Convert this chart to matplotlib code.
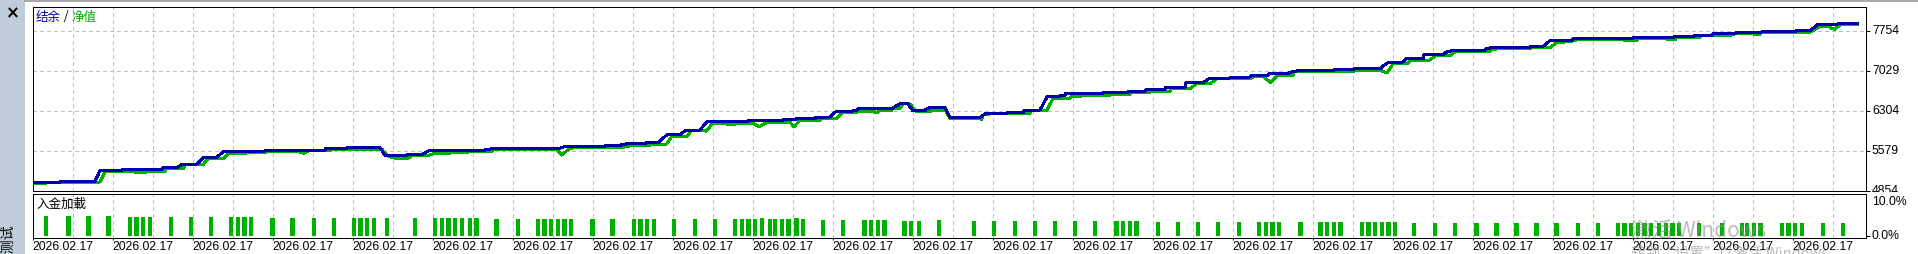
import matplotlib
matplotlib.use('Agg')
import matplotlib.pyplot as plt
import matplotlib.transforms as mtransforms
from matplotlib.patches import Rectangle
from matplotlib.lines import Line2D
import numpy as np

plt.rcParams['lines.scale_dashes'] = False

# balance curve: time (minutes from 00:00) and value
bal_t = [0, 20.6, 21.4, 46.9, 50.6, 66.4, 67.1, 96.9, 97.7, 108.2,
         111.9, 123.2, 128.1, 138.2, 143.1, 174.4, 175.1, 219.4, 220.1, 235.7,
         236.4, 260.6, 264.4, 280.7, 281.4, 291.9, 296.9, 326.9, 327.4, 339.4,
         340.1, 343.1, 343.9, 395.6, 396.4, 397.9, 398.6, 428.6, 429.4, 440.6,
         441.4, 444.4, 445.1, 459.4, 460.1, 469.1, 475.7, 485.6, 489.4, 500.6,
         505.7, 535.7, 536.4, 561.9, 562.7, 571.9, 572.6, 586.9, 587.6, 598.1,
         601.9, 614.4, 615.2, 618.2, 618.9, 644.4, 650.6, 656.6, 660.4, 669.4,
         670.1, 673.1, 684.4, 688.1, 710.6, 714.4, 730.1, 730.9, 742.9, 743.6,
         745.9, 755.6, 760.9, 770.6, 771.4, 774.4, 775.1, 802.9, 803.6, 821.6,
         822.4, 834.4, 835.1, 849.4, 850.1, 864.4, 865.1, 877.9, 883.1, 898.1,
         898.9, 913.1, 913.9, 926.6, 927.4, 940.9, 945.4, 950.6, 975.4, 976.1,
         990.4, 991.1, 1010.6, 1015.9, 1026.9, 1030.6, 1043.1, 1043.6, 1058.1, 1061.9,
         1089.4, 1090.1, 1093.1, 1093.9, 1123.1, 1123.9, 1133.1, 1138.1, 1154.4, 1155.2,
         1199.4, 1200.2, 1230.6, 1231.4, 1245.6, 1246.4, 1259.4, 1260.2, 1276.9, 1277.6,
         1295.6, 1296.4, 1321.9, 1322.6, 1333.1, 1338.4, 1352.6, 1353.4, 1368.4]
bal_v = [4995, 4995, 5026, 5026, 5213, 5213, 5231, 5231, 5262, 5262,
         5329, 5334, 5449, 5456, 5557, 5570, 5588, 5588, 5619, 5619,
         5637, 5637, 5485, 5485, 5503, 5503, 5570, 5570, 5588, 5588,
         5601, 5601, 5612, 5612, 5637, 5637, 5648, 5648, 5666, 5666,
         5679, 5679, 5702, 5702, 5720, 5720, 5860, 5860, 5938, 5951,
         6096, 6101, 6114, 6114, 6132, 6132, 6150, 6150, 6186, 6186,
         6277, 6277, 6300, 6300, 6337, 6337, 6425, 6422, 6300, 6300,
         6326, 6355, 6355, 6181, 6181, 6241, 6241, 6264, 6264, 6295,
         6313, 6313, 6549, 6554, 6580, 6580, 6616, 6616, 6634, 6634,
         6652, 6652, 6688, 6688, 6725, 6725, 6808, 6808, 6893, 6893,
         6911, 6911, 6935, 6935, 6966, 6966, 7015, 7025, 7025, 7044,
         7044, 7062, 7062, 7165, 7170, 7243, 7243, 7315, 7323, 7382,
         7388, 7431, 7431, 7450, 7450, 7468, 7468, 7569, 7576, 7600,
         7600, 7623, 7623, 7649, 7649, 7667, 7667, 7691, 7691, 7709,
         7709, 7727, 7727, 7745, 7745, 7854, 7854, 7872, 7872]

# equity curve
eq_t = [0, 9.4, 10.1, 20.6, 21.4, 50.6, 54.4, 76.9, 77.6, 84.4,
        85.1, 99.4, 100.1, 112.9, 114.4, 127.9, 131.6, 142.9, 146.6, 159.4,
        160.1, 174.4, 175.1, 200.6, 203.6, 206.6, 223.1, 223.9, 262.1, 266.6,
        271.9, 281.6, 284.6, 296.6, 300.4, 306.1, 313.6, 327.1, 343.1, 346.9,
        393.1, 397.1, 403.1, 440.6, 448.1, 460.1, 475.6, 479.4, 490.6, 494.4,
        505.6, 509.4, 515.6, 523.1, 540.4, 544.9, 550.9, 568.1, 571.1, 575.6,
        590.6, 591.4, 603.1, 606.9, 618.1, 618.9, 630.4, 633.4, 635.6, 644.4,
        645.2, 650.6, 652.9, 658.1, 663.1, 673.1, 673.9, 684.4, 688.1, 709.1,
        711.9, 712.9, 718.1, 733.1, 733.9, 748.1, 748.9, 755.6, 756.4, 760.6,
        765.4, 778.1, 778.9, 785.6, 786.4, 808.1, 808.9, 823.1, 823.9, 838.1,
        838.9, 853.1, 853.9, 868.1, 873.1, 883.1, 888.1, 913.1, 915.4, 922.9,
        928.6, 934.1, 945.4, 945.6, 950.6, 985.6, 985.9, 990.4, 991.1, 1010.6,
        1015.9, 1020.4, 1030.6, 1034.4, 1048.1, 1051.9, 1063.1, 1066.9, 1093.1, 1093.9,
        1096.9, 1097.6, 1123.1, 1123.9, 1138.1, 1143.1, 1154.4, 1155.4, 1158.1, 1193.1,
        1195.1, 1202.6, 1204.1, 1225.6, 1228.1, 1231.9, 1233.1, 1250.6, 1251.4, 1273.1,
        1276.9, 1290.4, 1291.9, 1295.6, 1296.4, 1333.1, 1340.6, 1346.6, 1350.4, 1351.9,
        1355.6, 1368.4]
eq_v = [4977, 4977, 4990, 4990, 5008, 5008, 5195, 5195, 5177, 5177,
        5202, 5202, 5244, 5244, 5322, 5322, 5430, 5430, 5516, 5516,
        5539, 5539, 5552, 5552, 5528, 5570, 5570, 5594, 5600, 5479,
        5438, 5438, 5485, 5485, 5521, 5516, 5534, 5552, 5552, 5601,
        5601, 5497, 5624, 5630, 5661, 5673, 5697, 5836, 5836, 5938,
        5932, 6059, 6072, 6054, 6077, 6010, 6090, 6090, 6010, 6126,
        6126, 6155, 6155, 6259, 6259, 6290, 6290, 6264, 6308, 6308,
        6344, 6344, 6422, 6422, 6277, 6277, 6313, 6313, 6168, 6168,
        6145, 6222, 6241, 6241, 6253, 6253, 6295, 6295, 6300, 6300,
        6525, 6525, 6554, 6554, 6572, 6572, 6598, 6598, 6627, 6627,
        6657, 6657, 6699, 6699, 6790, 6790, 6875, 6880, 6911, 6917,
        6815, 6947, 6947, 7007, 7015, 7015, 7002, 7002, 7033, 7033,
        6984, 7147, 7147, 7219, 7219, 7292, 7292, 7370, 7370, 7406,
        7406, 7424, 7424, 7437, 7437, 7540, 7551, 7576, 7582, 7582,
        7569, 7569, 7600, 7600, 7582, 7582, 7623, 7623, 7660, 7660,
        7696, 7696, 7685, 7685, 7721, 7721, 7830, 7830, 7781, 7781,
        7854, 7854]

# deposit load bars: time (minutes) and load (%)
bar_t = [10, 27, 42, 57, 73, 78, 83, 88, 104, 119,
         134, 149, 154, 159, 164, 180, 195, 211, 226, 241,
         246, 251, 256, 266, 287, 302, 307, 312, 317, 322,
         328, 333, 348, 364, 379, 384, 389, 394, 399, 404,
         420, 435, 451, 456, 461, 466, 481, 497, 512, 527,
         532, 537, 542, 547, 553, 557, 562, 567, 573, 578,
         593, 608, 624, 629, 634, 639, 654, 659, 665, 680,
         706, 721, 737, 752, 767, 782, 797, 813, 818, 823,
         828, 844, 859, 874, 889, 905, 920, 925, 930, 935,
         951, 966, 971, 976, 981, 997, 1002, 1007, 1012, 1017,
         1022, 1036, 1052, 1067, 1083, 1098, 1113, 1128, 1143, 1159,
         1174, 1189, 1194, 1199, 1204, 1209, 1214, 1220, 1225, 1230,
         1235, 1250, 1267, 1282, 1286, 1291, 1296, 1312, 1317, 1322,
         1327, 1343, 1358]
bar_h = ([5.8] * 4 + [5.65] * 4 + [5.55] * 7 + [5.35] * 9 + [5.2] * 8 + [5.1] * 14 +
         [5.0, 5.0, 5.0, 5.05, 5.05, 5.05, 5.05, 5.25, 5.05, 5.05, 5.05, 5.05, 5.25, 5.0] +
         [4.85] * 2 + [4.6] * 4 + [4.45] * 3 + [4.65] + [4.5] * 7 + [4.37] * 4 +
         [4.27] * 9 + [4.15] * 11 + [3.95] * 32)

y_ticks = [4854, 5579, 6304, 7029, 7754]
load_ticks = [0, 10]
load_labels = ['0.0%', '10.0%']
date_label = '2026.02.17'
hours = np.arange(0, 23)

BLUE = '#0000A8'
GREEN = '#00B000'
GRID = '#C0C0C0'
CJK = ['Noto Sans CJK SC', 'DejaVu Sans']
NUM = 'Liberation Sans'

W, H = 1918, 254
fig = plt.figure(figsize=(W / 100, H / 100), dpi=100)
fig.patch.set_facecolor('white')


def fx(px):
    return px / W


def fy(py):
    return 1 - py / H


ax = fig.add_axes([fx(32.5), fy(190.5), 1833 / W, 184 / H])
ax2 = fig.add_axes([fx(32.5), fy(237.5), 1833 / W, 44 / H])

xmax = 1833 * 0.75
for a in (ax, ax2):
    a.set_xlim(0, xmax)
    for s in a.spines.values():
        s.set_linewidth(0.72)
        s.set_color('black')
    for t in np.arange(30, xmax, 30):
        a.axvline(t, color=GRID, lw=0.72, ls=(0, (2.2, 2.2)), zorder=0.5, antialiased=False)

ax.set_ylim(4854, 4854 + 184 * 18.125)
for v in y_ticks[1:]:
    ax.axhline(v, color=GRID, lw=0.72, ls=(0, (2.2, 2.2)), zorder=0.5, antialiased=False)

ax.plot(eq_t, eq_v, color=GREEN, lw=1.44, antialiased=False, zorder=3)
ax.plot(bal_t, bal_v, color=BLUE, lw=1.44, antialiased=False, zorder=4)

ax.set_xticks([])
ax.yaxis.tick_right()
ax.set_yticks(y_ticks)
ax.tick_params(axis='y', direction='out', length=3, width=0.72, labelright=False)

off = mtransforms.ScaledTranslation(6.5 / 100, 0, fig.dpi_scale_trans)
clip = mtransforms.Bbox.from_extents(1866, H - 192.3, W, H)
for v in y_ticks:
    t = ax.text(1, v, str(v), transform=ax.get_yaxis_transform() + off,
                ha='left', va='center', fontsize=8.8, family=NUM, clip_on=False)
    if v == y_ticks[0]:
        t.set_clip_box(clip)
        t.set_clip_on(True)

# deposit load panel
ax2.set_ylim(-0.38, 12.45)
ax2.bar(bar_t, bar_h, width=3.4, color=GREEN, lw=0, antialiased=False, zorder=2)
ax2.yaxis.tick_right()
ax2.set_yticks([0])
ax2.tick_params(axis='y', direction='out', length=3, width=0.72, labelright=False)
for v, s in zip(load_ticks, load_labels):
    ax2.text(1, v, s, transform=ax2.get_yaxis_transform() + off,
             ha='left', va='center', fontsize=8.8, family=NUM)

ax2.set_xticks(hours * 60)
ax2.set_xticklabels([date_label] * len(hours), ha='left', fontsize=8.8, family=NUM)
ax2.tick_params(axis='x', direction='out', length=1.44, width=0.72, pad=0.8)

# titles
r = fig.canvas.get_renderer()
x = fx(36)
for s, c in [('结余', BLUE), (' / ', 'black'), ('净值', GREEN)]:
    t = fig.text(x, fy(17), s, color=c, fontsize=9, family=CJK, va='center', ha='left')
    x = t.get_window_extent(r).x1 / W
fig.text(fx(36), fy(204), '入金加載', fontsize=9, family=CJK, va='center', ha='left')

# side bar of the terminal window
fig.add_artist(Rectangle((0, 0), fx(25), 1, transform=fig.transFigure,
                         facecolor='#BFCCDA', edgecolor='none', zorder=0))
fig.add_artist(Line2D([fx(25), 1], [fy(1.2), fy(1.2)], transform=fig.transFigure,
                      color='#A8A8A8', lw=1.44))
fig.text(fx(13), fy(13.5), '×', fontsize=12, fontweight='bold', ha='center', va='center',
         family='DejaVu Sans')
fig.text(fx(8.5), fy(224), '策略测试', fontsize=10, family=CJK, rotation=90,
         ha='center', va='top')

# windows watermark
fig.text(fx(1631), fy(231), '激活 Windows', fontsize=15, family=CJK, color='#8C8C8C',
         alpha=0.6, va='center', ha='left', zorder=10)
fig.text(fx(1631), fy(247), '转到“设置”以激活 Windows。', fontsize=10.5, family=CJK,
         color='#8C8C8C', alpha=0.6, va='top', ha='left', zorder=10)

fig.savefig('out.png', dpi=100)
